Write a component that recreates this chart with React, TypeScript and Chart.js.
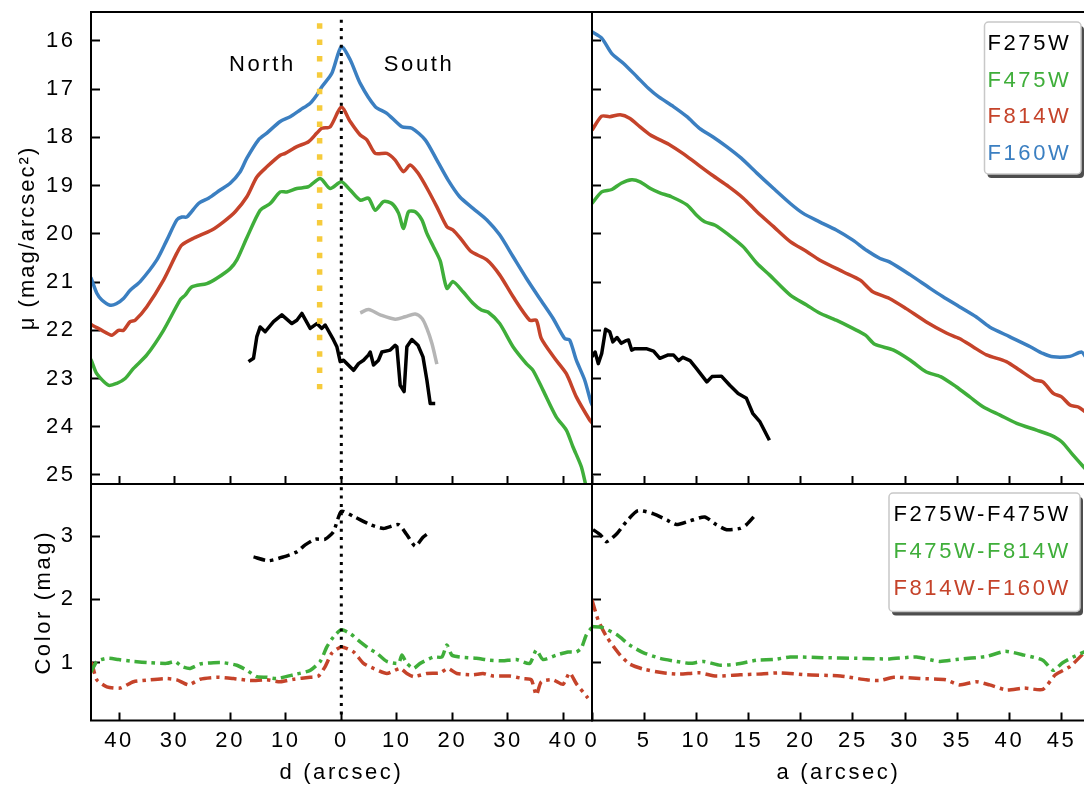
import React, { useEffect, useRef } from "react";
import { Chart, registerables } from "chart.js";
Chart.register(...registerables);

// ---------------- data ----------------
// Top-left: surface brightness vs d (arcsec), North negative
const profD_F160W: number[][] = [
  [-45.1, 20.9], [-44.9, 20.96], [-44.0, 21.23], [-43.1, 21.37], [-41.6, 21.48], [-40.5, 21.45], [-39.2, 21.34],
  [-38.0, 21.17], [-36.2, 20.99], [-33.2, 20.54], [-31.4, 20.13], [-29.6, 19.71], [-28.7, 19.65], [-27.8, 19.65],
  [-25.7, 19.37], [-23.9, 19.26], [-21.8, 19.09], [-20.0, 18.95], [-18.2, 18.71], [-17.0, 18.43], [-14.9, 18.05],
  [-13.4, 17.91], [-11.0, 17.67], [-9.2, 17.57], [-7.4, 17.43], [-5.6, 17.29], [-4.4, 17.12], [-3.5, 16.95],
  [-1.7, 16.67], [0.0, 16.12], [1.6, 16.39], [3.4, 16.88], [6.1, 17.36], [8.2, 17.5], [10.9, 17.78], [12.7, 17.81],
  [15.1, 18.05], [17.2, 18.47], [19.2, 18.88], [21.3, 19.23], [23.7, 19.47], [26.2, 19.71], [28.5, 20.02],
  [30.9, 20.47], [33.3, 20.92], [35.7, 21.34], [38.1, 21.75], [40.2, 22.17], [41.1, 22.2], [42.3, 22.62],
  [43.8, 23.03], [44.9, 23.48], [45.2, 23.56],
];
const profD_F814W: number[][] = [
  [-45.1, 21.87], [-44.9, 21.89], [-43.4, 21.98], [-41.3, 22.1], [-40.1, 22.0], [-39.2, 22.0], [-38.0, 21.82],
  [-37.1, 21.79], [-35.0, 21.51], [-32.0, 20.96], [-29.6, 20.4], [-28.7, 20.23], [-26.6, 20.09], [-23.3, 19.92],
  [-21.2, 19.75], [-19.1, 19.54], [-17.0, 19.23], [-15.2, 18.82], [-13.4, 18.61], [-11.0, 18.37], [-10.1, 18.33],
  [-8.0, 18.19], [-5.9, 18.09], [-4.4, 17.91], [-3.5, 17.81], [-2.0, 17.78], [0.0, 17.37], [1.6, 17.67],
  [3.4, 17.95], [4.6, 18.05], [6.1, 18.33], [8.2, 18.33], [9.7, 18.47], [11.2, 18.71], [12.4, 18.57], [13.8, 18.74],
  [15.6, 19.09], [17.2, 19.44], [19.0, 19.85], [20.1, 19.92], [21.7, 20.13], [23.4, 20.37], [26.2, 20.54],
  [28.5, 20.85], [30.9, 21.3], [33.9, 21.79], [35.1, 21.79], [36.0, 22.17], [38.4, 22.58], [40.5, 22.9],
  [42.3, 23.38], [44.7, 23.86], [45.2, 23.93],
];
const profD_F475W: number[][] = [
  [-45.1, 22.6], [-44.9, 22.65], [-44.0, 22.9], [-41.9, 23.14], [-40.4, 23.1], [-38.9, 23.0], [-37.4, 22.79],
  [-35.0, 22.51], [-32.0, 22.0], [-29.0, 21.37], [-28.1, 21.27], [-26.9, 21.1], [-24.2, 21.03], [-22.4, 20.92],
  [-20.0, 20.72], [-18.8, 20.54], [-17.0, 20.08], [-14.6, 19.51], [-12.8, 19.37], [-11.0, 19.13], [-9.8, 19.13],
  [-8.0, 19.06], [-5.9, 19.02], [-3.8, 18.85], [-2.0, 19.06], [0.0, 18.92], [1.6, 19.09], [3.4, 19.3],
  [4.9, 19.26], [6.1, 19.51], [7.6, 19.33], [9.1, 19.37], [10.3, 19.57], [11.2, 19.89], [12.1, 19.54],
  [13.3, 19.54], [14.5, 19.71], [15.4, 19.99], [16.6, 20.27], [17.8, 20.56], [19.0, 21.13], [20.1, 20.99],
  [21.9, 21.2], [23.7, 21.44], [25.2, 21.58], [26.4, 21.62], [28.5, 21.86], [30.9, 22.34], [33.3, 22.69],
  [34.5, 22.83], [36.3, 23.24], [38.7, 23.8], [40.5, 24.07], [41.7, 24.42], [43.2, 24.83], [44.1, 25.25],
  [45.2, 25.6],
];
const profD_F275W: number[][] = [
  [-16.7, 22.65], [-15.8, 22.58], [-15.2, 22.13], [-14.6, 21.93], [-13.7, 22.03], [-12.2, 21.82], [-10.7, 21.68],
  [-8.9, 21.86], [-8.0, 21.79], [-7.1, 21.65], [-5.6, 21.96], [-4.4, 21.86], [-3.5, 21.96], [-2.9, 21.89],
  [-1.4, 22.2], [-0.8, 22.34], [-0.2, 22.65], [0.4, 22.62], [2.2, 22.83], [3.1, 22.69], [4.0, 22.62],
  [4.9, 22.51], [5.2, 22.45], [5.8, 22.72], [6.7, 22.62], [7.3, 22.45], [8.8, 22.41], [9.7, 22.31],
  [10.0, 22.34], [10.6, 23.14], [11.3, 23.27], [11.8, 22.34], [12.7, 22.19], [13.8, 22.31], [14.7, 22.55],
  [15.4, 23.03], [16.0, 23.52], [16.9, 23.52],
];
const profD_F275W_alt: number[][] = [
  [3.4, 21.64], [4.9, 21.57], [7.0, 21.68], [9.7, 21.77], [11.5, 21.72], [13.3, 21.66], [14.5, 21.75],
  [15.4, 21.96], [16.3, 22.27], [17.2, 22.7],
];

// Top-right: surface brightness vs a (arcsec)
const profA_F160W: number[][] = [
  [0, 15.81], [0.93, 15.94], [1.9, 16.26], [3.0, 16.46], [4.3, 16.74], [5.4, 16.98], [6.4, 17.16], [7.8, 17.36],
  [9.1, 17.57], [10.3, 17.81], [11.6, 17.99], [12.9, 18.19], [14.3, 18.43], [15.8, 18.74], [17.4, 19.06],
  [19.0, 19.37], [20.2, 19.57], [21.8, 19.75], [23.4, 19.92], [25.0, 20.13], [26.3, 20.34], [27.6, 20.51],
  [28.5, 20.58], [30.5, 20.85], [32.4, 21.13], [33.6, 21.3], [35.2, 21.51], [36.8, 21.72], [38.1, 21.93],
  [40.0, 22.13], [42.0, 22.34], [43.2, 22.48], [44.2, 22.55], [45.8, 22.54], [46.9, 22.45], [47.3, 22.55],
];
const profA_F814W: number[][] = [
  [0, 17.85], [0.93, 17.56], [1.7, 17.57], [2.7, 17.53], [3.6, 17.6], [4.6, 17.78], [5.6, 17.95], [6.5, 18.05],
  [7.5, 18.16], [8.7, 18.33], [10.0, 18.54], [11.5, 18.78], [13.1, 19.02], [14.5, 19.26], [15.8, 19.54],
  [17.4, 19.85], [19.0, 20.16], [20.6, 20.37], [21.8, 20.54], [24.1, 20.79], [25.7, 20.96], [26.9, 21.2],
  [28.5, 21.34], [30.1, 21.55], [32.0, 21.82], [34.0, 22.06], [35.2, 22.17], [36.5, 22.34], [37.8, 22.51],
  [39.7, 22.65], [41.0, 22.83], [42.4, 23.03], [43.2, 23.07], [44.2, 23.31], [45.0, 23.38], [45.8, 23.55],
  [46.6, 23.59], [47.3, 23.7],
];
const profA_F475W: number[][] = [
  [0, 19.37], [0.93, 19.13], [1.9, 19.08], [2.8, 18.95], [3.8, 18.88], [4.6, 18.92], [5.6, 19.06], [6.5, 19.15],
  [7.6, 19.23], [9.1, 19.4], [10.0, 19.61], [10.8, 19.75], [11.8, 19.82], [13.1, 20.02], [14.5, 20.27],
  [15.8, 20.61], [17.0, 20.85], [19.0, 21.27], [20.6, 21.48], [21.8, 21.64], [23.4, 21.79], [25.0, 21.96],
  [26.2, 22.1], [27.1, 22.29], [28.9, 22.41], [30.5, 22.62], [32.0, 22.86], [33.4, 22.96], [34.9, 23.17],
  [36.2, 23.38], [37.5, 23.59], [39.1, 23.76], [40.7, 23.93], [42.6, 24.07], [43.9, 24.17], [45.0, 24.31],
  [46.1, 24.59], [47.3, 24.88],
];
const profA_F275W: number[][] = [
  [0, 22.55], [0.3, 22.45], [0.6, 22.69], [0.93, 22.48], [1.3, 21.98], [1.7, 22.03], [2.0, 22.24], [2.4, 22.15],
  [2.8, 22.27], [3.2, 22.22], [3.5, 22.2], [3.8, 22.41], [4.1, 22.38], [5.2, 22.38], [5.9, 22.43], [6.5, 22.58],
  [7.3, 22.51], [7.8, 22.51], [8.3, 22.63], [8.7, 22.56], [9.4, 22.63], [10.0, 22.79], [11.0, 23.07],
  [11.5, 22.96], [12.4, 22.95], [13.2, 23.14], [14.0, 23.31], [14.8, 23.41], [15.4, 23.72], [16.1, 23.9],
  [17.0, 24.28],
];

// Bottom-left: colours vs d
const colD_275_475: number[][] = [
  [-15.8, 2.67], [-13.1, 2.61], [-10.4, 2.67], [-8.0, 2.75], [-6.5, 2.86], [-4.7, 2.95], [-2.9, 2.95],
  [-1.4, 3.07], [0.0, 3.39], [2.2, 3.31], [5.2, 3.18], [7.6, 3.12], [10.3, 3.18], [11.8, 3.02], [13.3, 2.84],
  [14.7, 2.98], [15.6, 3.04],
];
const colD_475_814: number[][] = [
  [-45.1, 0.85], [-44.9, 0.88], [-44.0, 1.02], [-42.2, 1.07], [-40.1, 1.05], [-37.4, 1.02], [-34.4, 1.0],
  [-31.4, 0.99], [-29.9, 1.02], [-28.7, 0.94], [-27.2, 0.91], [-25.4, 0.98], [-23.0, 1.0], [-21.2, 1.0],
  [-18.8, 0.96], [-17.0, 0.88], [-15.2, 0.78], [-13.4, 0.77], [-11.6, 0.75], [-8.6, 0.81], [-5.6, 0.88],
  [-3.8, 1.02], [-2.6, 1.25], [-1.4, 1.41], [0.0, 1.52], [1.6, 1.46], [3.4, 1.33], [4.9, 1.23], [6.4, 1.15],
  [8.2, 1.02], [10.3, 0.99], [10.9, 1.12], [11.8, 0.99], [13.0, 0.91], [14.2, 0.99], [16.6, 1.09], [18.1, 1.09],
  [19.0, 1.28], [19.9, 1.12], [21.3, 1.09], [24.3, 1.07], [26.7, 1.04], [29.0, 1.03], [31.5, 1.05], [33.9, 0.99],
  [35.1, 1.2], [36.3, 1.05], [38.7, 1.12], [40.8, 1.17], [42.3, 1.17], [43.2, 1.23], [44.1, 1.44], [45.2, 1.57],
];
const colD_814_160: number[][] = [
  [-45.1, 1.0], [-44.9, 0.99], [-44.0, 0.73], [-42.2, 0.62], [-39.8, 0.6], [-37.4, 0.7], [-34.4, 0.73],
  [-31.4, 0.75], [-29.6, 0.73], [-27.5, 0.65], [-25.4, 0.74], [-22.4, 0.77], [-19.4, 0.75], [-16.4, 0.72],
  [-13.4, 0.73], [-11.0, 0.7], [-8.6, 0.74], [-5.6, 0.77], [-4.1, 0.79], [-2.9, 0.94], [-1.7, 1.15], [0.0, 1.25],
  [2.2, 1.17], [4.0, 0.99], [5.8, 0.91], [8.2, 0.83], [10.6, 0.91], [11.8, 0.83], [13.0, 0.78], [15.4, 0.83],
  [17.8, 0.84], [19.2, 0.91], [20.8, 0.83], [23.7, 0.81], [25.5, 0.83], [27.3, 0.79], [30.3, 0.79], [32.7, 0.75],
  [34.2, 0.73], [35.1, 0.49], [36.0, 0.7], [38.1, 0.73], [39.9, 0.66], [41.1, 0.84], [42.3, 0.67], [44.4, 0.44],
];

// Bottom-right: colours vs a
const colA_275_475: number[][] = [
  [0.1, 3.1], [0.8, 3.02], [1.4, 2.91], [2.4, 3.04], [3.3, 3.23], [4.4, 3.4], [5.9, 3.35], [7.2, 3.25],
  [8.1, 3.18], [9.4, 3.24], [10.8, 3.3], [11.9, 3.18], [12.9, 3.1], [14.2, 3.12], [14.8, 3.18], [15.8, 3.36],
];
const colA_475_814: number[][] = [
  [0, 1.57], [0.9, 1.56], [2.4, 1.44], [3.6, 1.28], [4.9, 1.16], [6.5, 1.07], [8.1, 1.02], [9.4, 0.99],
  [10.7, 1.02], [12.3, 0.96], [13.9, 0.98], [15.8, 1.04], [17.4, 1.05], [19.0, 1.09], [22.1, 1.08], [25.3, 1.07],
  [28.5, 1.06], [31.1, 1.09], [33.3, 1.02], [34.9, 1.05], [37.8, 1.1], [39.6, 1.18], [41.4, 1.12], [43.2, 1.04],
  [44.2, 0.88], [45.1, 1.0], [46.1, 1.09], [47.3, 1.18],
];
const colA_814_160: number[][] = [
  [0, 1.99], [0.6, 1.67], [1.4, 1.41], [2.7, 1.12], [3.6, 0.98], [4.9, 0.9], [6.8, 0.84], [8.4, 0.82],
  [10.3, 0.84], [11.9, 0.79], [14.2, 0.81], [15.8, 0.82], [18.0, 0.84], [20.6, 0.81], [23.8, 0.79], [26.3, 0.73],
  [27.6, 0.72], [28.9, 0.77], [31.4, 0.75], [33.9, 0.73], [35.2, 0.65], [36.8, 0.7], [38.1, 0.65], [39.7, 0.57],
  [41.4, 0.6], [43.2, 0.58], [44.4, 0.81], [45.8, 0.94], [47.3, 1.18],
];

// reference lines
const centerLineTop: number[][] = [[0, 15.56], [0, 25.3]];
const centerLineBottom: number[][] = [[0, 3.9], [0, 0.0]];
const yellowLine: number[][] = [[-3.9, 15.63], [-3.9, 23.22]];

// ticks and labels
const ticksD = [-40, -30, -20, -10, 0, 10, 20, 30, 40];
const ticksA = [0, 5, 10, 15, 20, 25, 30, 35, 40, 45];
const ticksMu = [16, 17, 18, 19, 20, 21, 22, 23, 24, 25];
const ticksColor = [1, 2, 3];
const bandLabels = ["F275W", "F475W", "F814W", "F160W"];
const colorLabels = ["F275W-F475W", "F475W-F814W", "F814W-F160W"];
const regionText = ["North", "South"];
const regionD = [-14.2, 14.0];
const regionMu = [16.62, 16.62];
const muTitle = "μ (mag/arcsec²)";

// ---------------- styling ----------------
const BLACK = "#000000";
const GREEN = "#3fae3a";
const RED = "#c5432a";
const BLUE = "#3b7fc1";
const GRAY = "#b5b5b5";
const YELLOW = "#f6cb3c";
const bandColors = [BLACK, GREEN, RED, BLUE];
const colorColors = [BLACK, GREEN, RED];

const FONT = "'Liberation Sans', Arial, sans-serif";
const SPACING = "2.6px";
const OFF = 50;
const W = 1084;
const H = 785;
const CW = W + 2 * OFF;
const CH = H + 2 * OFF;
const TICK_FONT = { family: FONT, size: 22 };
const TITLE_FONT = { family: FONT, size: 22 };
const LW = 3.5;

const solid = (label: string, data: number[][], color: string, tension = 0.25) => ({
  label, data, borderColor: color, backgroundColor: color, borderWidth: LW, pointRadius: 0, tension, fill: false,
  borderJoinStyle: "round",
});
const dashdot = (label: string, data: number[][], color: string) => ({
  label, data, borderColor: color, backgroundColor: color, borderWidth: LW, pointRadius: 0, tension: 0.2,
  fill: false, borderDash: [12, 5, 3.5, 5],
});
const dotted = (label: string, data: number[][], color: string, width: number, dash: number[]) => ({
  label, data, borderColor: color, backgroundColor: color, borderWidth: width, pointRadius: 0, tension: 0,
  fill: false, borderDash: dash, borderCapStyle: "butt",
});

// ---------------- plugins ----------------
const spacingPlugin = {
  id: "spacing",
  beforeDraw(chart: any) {
    chart.ctx.letterSpacing = SPACING;
  },
};
const framePlugin = {
  id: "frame",
  afterDraw(chart: any) {
    const { ctx, chartArea: a } = chart;
    ctx.save();
    ctx.strokeStyle = "#000";
    ctx.lineWidth = 2;
    ctx.strokeRect(a.left, a.top, a.right - a.left, a.bottom - a.top);
    ctx.restore();
  },
};
const regionPlugin = {
  id: "regions",
  afterDatasetsDraw(chart: any) {
    const { ctx, scales } = chart;
    ctx.save();
    ctx.font = `22px ${FONT}`;
    ctx.letterSpacing = SPACING;
    ctx.fillStyle = "#000";
    ctx.textAlign = "center";
    ctx.textBaseline = "alphabetic";
    regionText.forEach((t, i) => {
      ctx.fillText(t, scales.x.getPixelForValue(regionD[i]), scales.y.getPixelForValue(regionMu[i]));
    });
    ctx.restore();
  },
};
const muTitlePlugin = {
  id: "muTitle",
  afterDraw(chart: any) {
    const ctx = chart.ctx;
    ctx.save();
    ctx.translate(27.5 + OFF, 238 + OFF);
    ctx.rotate(-Math.PI / 2);
    ctx.font = `22px ${FONT}`;
    ctx.letterSpacing = "2px";
    ctx.fillStyle = "#000";
    ctx.textAlign = "center";
    ctx.textBaseline = "middle";
    ctx.fillText(muTitle, 0, 0);
    ctx.restore();
  },
};

function roundRectPath(ctx: any, x: number, y: number, w: number, h: number, r: number) {
  ctx.beginPath();
  ctx.moveTo(x + r, y);
  ctx.lineTo(x + w - r, y);
  ctx.arcTo(x + w, y, x + w, y + r, r);
  ctx.lineTo(x + w, y + h - r);
  ctx.arcTo(x + w, y + h, x + w - r, y + h, r);
  ctx.lineTo(x + r, y + h);
  ctx.arcTo(x, y + h, x, y + h - r, r);
  ctx.lineTo(x, y + r);
  ctx.arcTo(x, y, x + r, y, r);
  ctx.closePath();
}

function legendPlugin(id: string, box: { x: number; y: number; w: number; h: number }, texts: string[], colors: string[], textX: number, base0: number, step: number) {
  return {
    id,
    afterDraw(chart: any) {
      const ctx = chart.ctx;
      ctx.save();
      roundRectPath(ctx, box.x + OFF + 3, box.y + OFF + 4, box.w, box.h, 4);
      ctx.fillStyle = "#4d4d4d";
      ctx.fill();
      roundRectPath(ctx, box.x + OFF, box.y + OFF, box.w, box.h, 4);
      ctx.fillStyle = "#ffffff";
      ctx.fill();
      ctx.strokeStyle = "#c8c8c8";
      ctx.lineWidth = 1.5;
      ctx.stroke();
      ctx.font = `22px ${FONT}`;
      ctx.letterSpacing = SPACING;
      ctx.textAlign = "left";
      ctx.textBaseline = "alphabetic";
      texts.forEach((t, i) => {
        ctx.fillStyle = colors[i];
        ctx.fillText(t, textX + OFF, base0 + step * i + OFF);
      });
      ctx.restore();
    },
  };
}

// ---------------- panels ----------------
type Area = { l: number; r: number; t: number; b: number };
interface PanelSpec {
  area: Area;
  axisLeft: number;
  axisBottom: number;
  xMin: number; xMax: number; xTicks: number[]; xAbs: boolean; xLabels: boolean; xTitle?: string;
  yMin: number; yMax: number; yTicks: number[]; yReverse: boolean; yLabels: boolean; yTitle?: string;
  datasets: any[];
  extra?: any[];
}

const LEFT_X = { xMin: -45.05, xMax: 45.12, xTicks: ticksD, xAbs: true };
const RIGHT_X = { xMin: 0, xMax: 47.24, xTicks: ticksA, xAbs: false };
const MU_Y = { yMin: 15.399, yMax: 25.187, yTicks: ticksMu, yReverse: true };
const COL_Y = { yMin: 0.088, yMax: 3.821, yTicks: ticksColor, yReverse: false };

const panels: PanelSpec[] = [
  {
    area: { l: 91, r: 592, t: 12, b: 484 }, axisLeft: 14.3, axisBottom: 484,
    ...LEFT_X, xLabels: false, ...MU_Y, yLabels: true,
    datasets: [
      dotted("centre", centerLineTop, BLACK, 3, [3, 5.3]),
      dotted("slit", yellowLine, YELLOW, 5.5, [5.5, 10.9]),
      solid("F275W", profD_F275W, BLACK, 0),
      solid("F275W alt", profD_F275W_alt, GRAY, 0.3),
      solid("F475W", profD_F475W, GREEN),
      solid("F814W", profD_F814W, RED),
      solid("F160W", profD_F160W, BLUE),
    ],
    extra: [regionPlugin, muTitlePlugin],
  },
  {
    area: { l: 592, r: 1085, t: 12, b: 484 }, axisLeft: 592, axisBottom: 484,
    ...RIGHT_X, xLabels: false, ...MU_Y, yLabels: false,
    datasets: [
      solid("F275W", profA_F275W, BLACK, 0),
      solid("F475W", profA_F475W, GREEN),
      solid("F814W", profA_F814W, RED),
      solid("F160W", profA_F160W, BLUE),
    ],
    extra: [legendPlugin("legendTop", { x: 984.5, y: 22, w: 96.5, h: 152 }, bandLabels, bandColors, 987.5, 50, 36.67)],
  },
  {
    area: { l: 91, r: 592, t: 484, b: 720.5 }, axisLeft: 30.8, axisBottom: 786.2,
    ...LEFT_X, xLabels: true, xTitle: "d (arcsec)", ...COL_Y, yLabels: true, yTitle: "Color (mag)",
    datasets: [
      dotted("centre", centerLineBottom, BLACK, 3, [3, 5.3]),
      dashdot("F275W-F475W", colD_275_475, BLACK),
      dashdot("F475W-F814W", colD_475_814, GREEN),
      dashdot("F814W-F160W", colD_814_160, RED),
    ],
  },
  {
    area: { l: 592, r: 1085, t: 484, b: 720.5 }, axisLeft: 592, axisBottom: 786.2,
    ...RIGHT_X, xLabels: true, xTitle: "a (arcsec)", ...COL_Y, yLabels: false,
    datasets: [
      dashdot("F275W-F475W", colA_275_475, BLACK),
      dashdot("F475W-F814W", colA_475_814, GREEN),
      dashdot("F814W-F160W", colA_814_160, RED),
    ],
    extra: [legendPlugin("legendBottom", { x: 889, y: 493, w: 191, h: 118.5 }, colorLabels, colorColors, 893.5, 521.2, 36.67)],
  },
];

function buildConfig(p: PanelSpec): any {
  const a = p.area;
  return {
    type: "line",
    data: { datasets: p.datasets },
    options: {
      animation: false,
      responsive: false,
      devicePixelRatio: 1,
      events: [],
      layout: {
        padding: {
          left: p.axisLeft + OFF,
          right: CW - (a.r + OFF),
          top: a.t + OFF,
          bottom: CH - (p.axisBottom + OFF),
        },
      },
      plugins: { legend: { display: false }, tooltip: { enabled: false }, title: { display: false } },
      scales: {
        x: {
          type: "linear",
          position: "bottom",
          min: p.xMin,
          max: p.xMax,
          afterBuildTicks: (s: any) => { s.ticks = p.xTicks.map((v) => ({ value: v })); },
          afterFit: (s: any) => { s.height = p.axisBottom - a.b; },
          ticks: {
            display: p.xLabels, autoSkip: false, maxRotation: 0, minRotation: 0, padding: 14.8, color: "#000",
            font: TICK_FONT,
            callback: (v: any) => String(p.xAbs ? Math.abs(Number(v)) : Number(v)),
          },
          grid: { display: true, drawOnChartArea: false, drawTicks: true, tickLength: -8, tickWidth: 2, tickColor: "#000" },
          border: { display: false },
          title: { display: !!p.xTitle, text: p.xTitle || "", color: "#000", font: TITLE_FONT, padding: 0 },
        },
        y: {
          type: "linear",
          position: "left",
          min: p.yMin,
          max: p.yMax,
          reverse: p.yReverse,
          afterBuildTicks: (s: any) => { s.ticks = p.yTicks.map((v) => ({ value: v })); },
          afterFit: (s: any) => { s.width = a.l - p.axisLeft; },
          ticks: {
            display: p.yLabels, autoSkip: false, padding: 24.4, color: "#000", font: TICK_FONT,
            callback: (v: any) => String(Number(v)),
          },
          grid: { display: true, drawOnChartArea: false, drawTicks: true, tickLength: -9, tickWidth: 2, tickColor: "#000" },
          border: { display: false },
          title: { display: !!p.yTitle, text: p.yTitle || "", color: "#000", font: TITLE_FONT, padding: 0 },
        },
      },
    },
    plugins: [spacingPlugin, framePlugin, ...(p.extra || [])],
  };
}

export default function App() {
  const r0 = useRef<HTMLCanvasElement>(null);
  const r1 = useRef<HTMLCanvasElement>(null);
  const r2 = useRef<HTMLCanvasElement>(null);
  const r3 = useRef<HTMLCanvasElement>(null);
  const refs = [r0, r1, r2, r3];

  useEffect(() => {
    const charts = panels.map((p, i) => new Chart(refs[i].current as HTMLCanvasElement, buildConfig(p)));
    return () => charts.forEach((c) => c.destroy());
  }, []);

  return (
    <div style={{ position: "absolute", left: 0, top: 0, width: W, height: H, overflow: "hidden", background: "#fff" }}>
      {panels.map((_, i) => (
        <canvas
          key={i}
          ref={refs[i]}
          width={CW}
          height={CH}
          style={{ position: "absolute", left: -OFF, top: -OFF, width: CW, height: CH }}
        />
      ))}
    </div>
  );
}
